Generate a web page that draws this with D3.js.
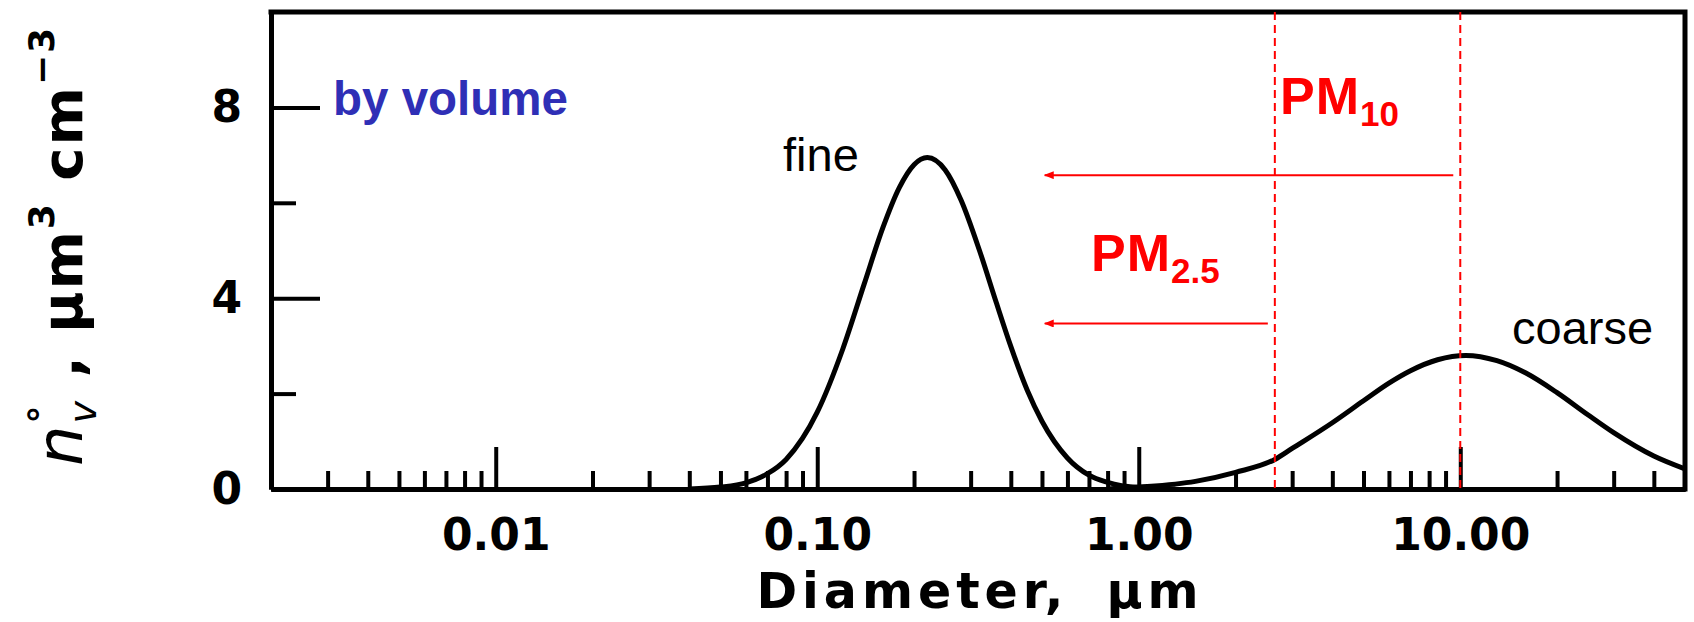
<!DOCTYPE html>
<html>
<head>
<meta charset="utf-8">
<script src="https://cdn.jsdelivr.net/npm/d3@7"></script>
<style>
  body { margin: 0; background: #fff; }
  svg { display: block; }
</style>
</head>
<body>
<svg id="chart" width="1694" height="622"></svg>
<script>
// fine mode
const fineDiam = [0.04, 0.05, 0.06, 0.07, 0.08, 0.10, 0.12, 0.14, 0.16, 0.18, 0.20, 0.22, 0.25, 0.28, 0.32, 0.36, 0.40, 0.45, 0.50, 0.60, 0.70, 0.80, 1.0, 1.3];
const fineVol  = [0, 0.04, 0.13, 0.32, 0.62, 1.61, 2.93, 4.30, 5.48, 6.32, 6.80, 6.95, 6.69, 6.06, 4.99, 3.92, 2.99, 2.07, 1.42, 0.65, 0.29, 0.14, 0.03, 0];

// coarse mode
const coarseDiam = [0.8, 1.0, 1.5, 2.0, 2.65, 3.0, 4.0, 5.0, 6.0, 7.0, 8.5, 10.4, 13, 16, 20, 25, 30, 40, 50];
const coarseVol  = [0, 0.04, 0.16, 0.35, 0.62, 0.85, 1.39, 1.85, 2.22, 2.48, 2.71, 2.80, 2.69, 2.43, 2.02, 1.55, 1.18, 0.69, 0.42];

// PM size cuts, the level of their arrows, and where the arrows stop
const pmNames = ['PM2.5', 'PM10'];
const pmCut = [2.65, 10];
const pmArrowLevel = [3.47, 6.58];
const pmArrowEnd = 0.51;

// axes
const xMajor = [0.01, 0.1, 1, 10];
const xMajorLabels = ['0.01', '0.10', '1.00', '10.00'];
const yMajor = [0, 4, 8];
const yMinor = [2, 6];

const svg = d3.select('#chart');
const black = '#000';
const red = '#ff0000';

const x = d3.scaleLog().domain([0.002, 50]).range([271, 1685]);
const y = d3.scaleLinear().domain([0, 10]).range([489, 12]);

const isDecade = t => Math.abs(Math.log10(t) - Math.round(Math.log10(t))) < 1e-6;
const xMinor = x.ticks().filter(t => !isDecade(t) && t > 0.0021 && t < 49);

function styleAxis(g) {
    g.select('.domain').attr('stroke', black).attr('stroke-width', 5);
    g.selectAll('.tick line').attr('stroke', black).attr('stroke-width', 4);
    g.selectAll('.tick text')
        .attr('fill', black)
        .attr('font-family', 'DejaVu Sans, sans-serif')
        .attr('font-weight', 'bold')
        .attr('font-size', 44);
}

// x axis: minor then major ticks, pointing inward
svg.append('g')
    .attr('transform', `translate(0,${y(0)})`)
    .call(d3.axisBottom(x).tickValues(xMinor).tickSize(-18).tickSizeOuter(0).tickFormat(''))
    .call(styleAxis);

svg.append('g')
    .attr('transform', `translate(0,${y(0)})`)
    .call(d3.axisBottom(x).tickValues(xMajor).tickSize(-42).tickSizeOuter(0).tickPadding(30)
        .tickFormat((d, i) => xMajorLabels[i]))
    .call(styleAxis);

// y axis
svg.append('g')
    .attr('transform', `translate(${x.range()[0]},0)`)
    .call(d3.axisLeft(y).tickValues(yMinor).tickSize(-25).tickSizeOuter(0).tickFormat(''))
    .call(styleAxis);

svg.append('g')
    .attr('transform', `translate(${x.range()[0]},0)`)
    .call(d3.axisLeft(y).tickValues(yMajor).tickSize(-49).tickSizeOuter(0).tickPadding(29))
    .call(styleAxis);

// top and right frame
svg.append('path')
    .attr('d', `M${x.range()[0]},${y(10)}H${x.range()[1]}V${y(0)}`)
    .attr('fill', 'none')
    .attr('stroke', black)
    .attr('stroke-width', 5)
    .attr('stroke-linecap', 'square');

// curves
svg.append('clipPath').attr('id', 'plot-clip')
    .append('rect')
    .attr('x', x.range()[0]).attr('y', y(10))
    .attr('width', x.range()[1] - x.range()[0]).attr('height', y(0) - y(10));

const line = d3.line()
    .x(d => x(d[0]))
    .y(d => y(d[1]))
    .curve(d3.curveMonotoneX);

[[fineDiam, fineVol], [coarseDiam, coarseVol]].forEach(([ds, vs]) => {
    svg.append('path')
        .datum(ds.map((d, i) => [d, vs[i]]))
        .attr('clip-path', 'url(#plot-clip)')
        .attr('d', line)
        .attr('fill', 'none')
        .attr('stroke', black)
        .attr('stroke-width', 5)
        .attr('stroke-linejoin', 'round');
});

// PM cut lines and arrows
svg.append('defs').append('marker')
    .attr('id', 'arrow')
    .attr('markerUnits', 'userSpaceOnUse')
    .attr('markerWidth', 10).attr('markerHeight', 8)
    .attr('refX', 9).attr('refY', 4)
    .attr('orient', 'auto')
    .append('path')
    .attr('d', 'M0,0L10,4L0,8Z')
    .attr('fill', red);

svg.selectAll('.pm-cut')
    .data(pmCut)
    .enter()
    .append('line')
    .attr('class', 'pm-cut')
    .attr('x1', d => x(d)).attr('x2', d => x(d))
    .attr('y1', y(10)).attr('y2', y(0))
    .attr('stroke', red)
    .attr('stroke-width', 2)
    .attr('stroke-dasharray', '8,5');

svg.selectAll('.pm-arrow')
    .data(pmCut)
    .enter()
    .append('line')
    .attr('class', 'pm-arrow')
    .attr('x1', d => x(d) - 7)
    .attr('x2', x(pmArrowEnd))
    .attr('y1', (d, i) => y(pmArrowLevel[i]))
    .attr('y2', (d, i) => y(pmArrowLevel[i]))
    .attr('stroke', red)
    .attr('stroke-width', 2)
    .attr('marker-end', 'url(#arrow)');

// PM labels
const pmLabelPos = [[1091, 271], [1280, 114]];
pmNames.forEach((name, i) => {
    const t = svg.append('text')
        .attr('x', pmLabelPos[i][0])
        .attr('y', pmLabelPos[i][1])
        .attr('fill', red)
        .attr('font-family', 'Liberation Sans, Arial, sans-serif')
        .attr('font-weight', 'bold')
        .attr('font-size', 52)
        .attr('letter-spacing', 1);
    t.append('tspan').text('PM');
    t.append('tspan').attr('font-size', 35).attr('dy', 12).attr('letter-spacing', 0).text(name.slice(2));
});

// other annotations
const sans = 'Liberation Sans, Arial, sans-serif';
svg.append('text')
    .attr('x', 333).attr('y', 115)
    .attr('fill', '#2f2fb6')
    .attr('font-family', sans)
    .attr('font-weight', 'bold')
    .attr('font-size', 47.5)
    .text('by volume');

svg.append('text')
    .attr('x', 783).attr('y', 171)
    .attr('font-family', sans)
    .attr('font-size', 47)
    .text('fine');

svg.append('text')
    .attr('x', 1512).attr('y', 344)
    .attr('font-family', sans)
    .attr('font-size', 47)
    .text('coarse');

// axis titles
svg.append('text')
    .attr('x', 980).attr('y', 608)
    .attr('text-anchor', 'middle')
    .attr('font-family', 'DejaVu Sans, sans-serif')
    .attr('font-weight', 'bold')
    .attr('font-size', 49)
    .attr('letter-spacing', 5)
    .attr('word-spacing', 16)
    .text('Diameter, μm');

const yTitle = svg.append('text')
    .attr('transform', 'translate(82,246) rotate(-90)')
    .attr('text-anchor', 'middle')
    .attr('font-family', 'DejaVu Sans, sans-serif')
    .attr('font-weight', 'bold')
    .attr('font-size', 56)
    .attr('letter-spacing', 2);
yTitle.append('tspan').attr('font-style', 'italic').attr('font-weight', 'normal').attr('font-size', 64).text('n');
yTitle.append('tspan').attr('font-size', 36).attr('dy', -28).text('°');
yTitle.append('tspan').attr('font-size', 38).attr('font-style', 'italic').attr('font-weight', 'normal')
    .attr('dx', -20).attr('dy', 42).text('v');
yTitle.append('tspan').attr('dy', -14).text(' ,  μm');
yTitle.append('tspan').attr('font-size', 36).attr('dy', -28).text('3');
yTitle.append('tspan').attr('dy', 28).text('  cm');
yTitle.append('tspan').attr('font-size', 36).attr('dy', -28).text('−3');
</script>
</body>
</html>
